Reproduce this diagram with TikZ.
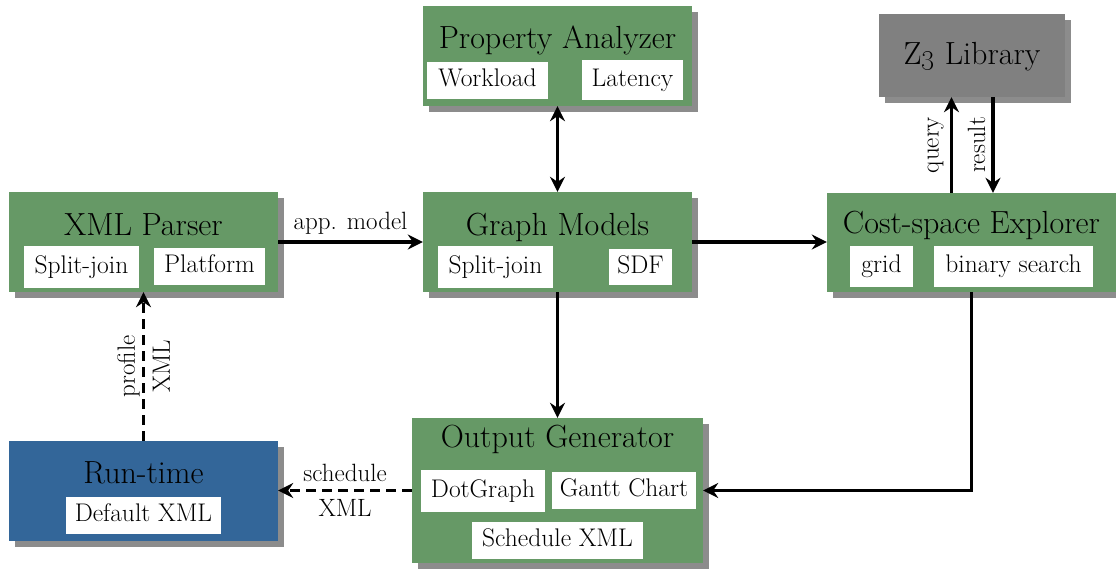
\documentclass[tikz,border=0pt]{standalone}
\usetikzlibrary{arrows.meta,shadows}
\definecolor{boxgreen}{RGB}{102,153,102}
\definecolor{boxblue}{RGB}{51,102,153}
\definecolor{boxgray}{RGB}{128,128,128}
\tikzset{
  mainbox/.style={draw=none, fill=boxgreen, inner sep=0pt,
    drop shadow={shadow xshift=6pt, shadow yshift=-6pt, opacity=0.45, fill=black}},
  titletext/.style={inner sep=0pt, anchor=base, font=\fontsize{32}{36}\selectfont},
  subbox/.style={fill=white, draw=none, inner sep=0pt, text height=17pt, text depth=5pt,
    font=\fontsize{25.5}{30}\selectfont},
  lab/.style={font=\fontsize{25}{30}\selectfont, inner sep=6pt},
  lab2/.style={font=\fontsize{25}{35}\selectfont, align=center, inner sep=0pt},
  conn/.style={line width=3.5pt},
  dashconn/.style={line width=3.5pt, dash pattern=on 10pt off 6pt},
  >={Stealth[length=15pt,width=15pt,inset=5pt]}
}
\begin{document}
\begin{tikzpicture}[x=1pt,y=-1pt]
\useasboundingbox (0,0) rectangle (1116,570);

% Property Analyzer
\node[mainbox, minimum width=269pt, minimum height=100pt] (pa) at (557.5,56) {};
\node[titletext] (pat) at (557.5,48) {Property Analyzer};
\node[subbox, minimum width=121pt, minimum height=37pt] (paw) at (487.5,80.5) {Workload};
\node[subbox, minimum width=101pt, minimum height=40pt] (pal) at (632.5,80) {Latency};

% Z3 Library
\node[mainbox, fill=boxgray, minimum width=186pt, minimum height=83pt] (z3) at (972,55.5) {};
\node[titletext] (z3t) at (972,64) {Z\oldstylenums{3} Library};

% XML Parser
\node[mainbox, minimum width=269pt, minimum height=100pt] (xp) at (143.5,242) {};
\node[titletext] (xpt) at (143.5,235) {XML Parser};
\node[subbox, minimum width=115pt, minimum height=42pt] (xps) at (81.5,267) {Split-join};
\node[subbox, minimum width=111pt, minimum height=37pt] (xpp) at (209.5,266.5) {Platform};

% Graph Models
\node[mainbox, minimum width=269pt, minimum height=100pt] (gm) at (557.5,242) {};
\node[titletext] (gmt) at (557.5,235) {Graph Models};
\node[subbox, minimum width=115pt, minimum height=42pt] (gms) at (495.5,267) {Split-join};
\node[subbox, minimum width=63pt, minimum height=36pt] (gmd) at (640.5,267) {SDF};

% Cost-space Explorer
\node[mainbox, minimum width=289pt, minimum height=99pt] (cs) at (971.5,242.5) {};
\node[titletext] (cst) at (971.5,233) {Cost-space Explorer};
\node[subbox, minimum width=63pt, minimum height=41pt] (csg) at (881.5,266.5) {grid};
\node[subbox, minimum width=159pt, minimum height=41pt] (csb) at (1013.5,266.5) {binary search};

% Run-time
\node[mainbox, fill=boxblue, minimum width=269pt, minimum height=100pt] (rt) at (143.5,491) {};
\node[titletext] (rtt) at (143.5,483) {Run-time};
\node[subbox, minimum width=155pt, minimum height=37pt] (rtd) at (143.5,515.5) {Default XML};

% Output Generator
\node[mainbox, minimum width=291pt, minimum height=145pt] (og) at (557.5,490.5) {};
\node[titletext] (ogt) at (557.5,447) {Output Generator};
\node[subbox, minimum width=124pt, minimum height=42pt] (ogd) at (483,491) {DotGraph};
\node[subbox, minimum width=144pt, minimum height=37pt] (ogg) at (624,490.5) {Gantt Chart};
\node[subbox, minimum width=171pt, minimum height=37pt] (ogs) at (557.5,540.5) {Schedule XML};

% connectors
\draw[conn,<->] (pa.south) -- (gm.north);
\draw[conn,->] (xp.east) -- node[lab, above] (appl) {app. model} (gm.west);
\draw[conn,->] (gm.east) -- (gm.east -| cs.west);
\draw[conn,->] (gm.south) -- (og.north);
\draw[conn,->] (cs.south) |- (og.east);
\draw[dashconn,->] (og.west) -- node[lab2] (schl) {schedule\\XML} (og.west -| rt.east);
\draw[dashconn,->] (rt.north) -- node[lab2, rotate=90] (profl) {profile\\XML} (xp.south);
\draw[conn,->] ([xshift=-20pt]cs.north) -- node[lab, rotate=90, anchor=south] (qryl) {query} ([xshift=-20pt]cs.north |- z3.south);
\draw[conn,->] ([xshift=21pt]z3.south) -- node[lab, rotate=90, anchor=south] (resl) {result} ([xshift=21pt]z3.south |- cs.north);
\end{tikzpicture}
\end{document}
